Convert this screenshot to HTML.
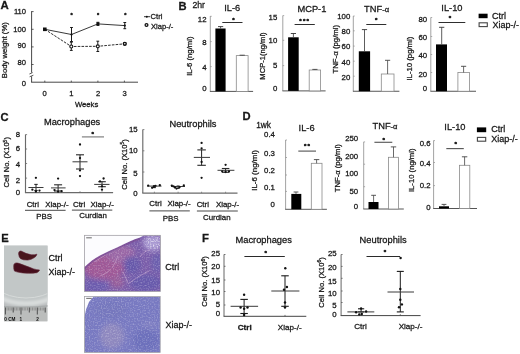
<!DOCTYPE html>
<html><head><meta charset="utf-8"><title>Figure</title>
<style>
html,body{margin:0;padding:0;background:#fff;width:520px;height:354px;overflow:hidden}
svg{display:block}
text{font-family:"Liberation Sans", Arial, sans-serif;stroke:#1a1a1a;stroke-width:0.28px}
</style></head><body>
<svg width="520" height="354" viewBox="0 0 520 354">
<rect width="520" height="354" fill="#fff"/>
<text x="0.6" y="9.2" font-size="11.4" text-anchor="start" font-weight="bold" fill="#161616" >A</text>
<line x1="31.6" y1="11.2" x2="31.6" y2="72.6" stroke="#333" stroke-width="0.9" />
<line x1="31.6" y1="76.3" x2="31.6" y2="82.2" stroke="#333" stroke-width="0.9" />
<line x1="29.4" y1="74.0" x2="32.6" y2="72.6" stroke="#333" stroke-width="0.8" />
<line x1="29.6" y1="76.8" x2="33.4" y2="75.2" stroke="#333" stroke-width="0.8" />
<line x1="31.150000000000002" y1="82.2" x2="138" y2="82.2" stroke="#333" stroke-width="0.9" />
<line x1="31.6" y1="11.6" x2="33.6" y2="11.6" stroke="#333" stroke-width="0.8" />
<line x1="31.6" y1="29.3" x2="33.6" y2="29.3" stroke="#333" stroke-width="0.8" />
<line x1="31.6" y1="46.9" x2="33.6" y2="46.9" stroke="#333" stroke-width="0.8" />
<line x1="31.6" y1="64.5" x2="33.6" y2="64.5" stroke="#333" stroke-width="0.8" />
<line x1="44.8" y1="82.2" x2="44.8" y2="80.6" stroke="#333" stroke-width="0.8" />
<line x1="71.3" y1="82.2" x2="71.3" y2="80.6" stroke="#333" stroke-width="0.8" />
<line x1="97.9" y1="82.2" x2="97.9" y2="80.6" stroke="#333" stroke-width="0.8" />
<line x1="124.4" y1="82.2" x2="124.4" y2="80.6" stroke="#333" stroke-width="0.8" />
<text x="26.0" y="14.32" font-size="7.6" text-anchor="end" font-weight="normal" fill="#161616" >110</text>
<text x="26.0" y="31.72" font-size="7.6" text-anchor="end" font-weight="normal" fill="#161616" >100</text>
<text x="26.0" y="47.92" font-size="7.6" text-anchor="end" font-weight="normal" fill="#161616" >90</text>
<text x="26.0" y="65.32" font-size="7.6" text-anchor="end" font-weight="normal" fill="#161616" >80</text>
<text x="26.0" y="86.32" font-size="7.6" text-anchor="end" font-weight="normal" fill="#161616" >0</text>
<text x="44.6" y="95.6" font-size="7.6" text-anchor="middle" font-weight="normal" fill="#161616" >0</text>
<text x="71.4" y="95.6" font-size="7.6" text-anchor="middle" font-weight="normal" fill="#161616" >1</text>
<text x="98.0" y="95.6" font-size="7.6" text-anchor="middle" font-weight="normal" fill="#161616" >2</text>
<text x="124.5" y="95.6" font-size="7.6" text-anchor="middle" font-weight="normal" fill="#161616" >3</text>
<text x="86.6" y="107.3" font-size="7.7" text-anchor="middle" font-weight="normal" fill="#161616" >Weeks</text>
<text transform="translate(7.2,50.2) rotate(-90)" x="0" y="0" font-size="7.7" text-anchor="middle" font-weight="normal" fill="#161616">Body weight (%)</text>
<polyline points="44.8,29.3 71.5,34.5 97.9,23.9 124.8,25.6" fill="none" stroke="#222" stroke-width="0.9"/>
<polyline points="44.8,29.3 71.3,46.5 97.8,46.3 124.8,43.8" fill="none" stroke="#222" stroke-width="0.95" stroke-dasharray="2.6,1.2"/>
<line x1="71.5" y1="27.5" x2="71.5" y2="41.5" stroke="#1a1a1a" stroke-width="1.0" />
<line x1="70.1" y1="27.5" x2="72.9" y2="27.5" stroke="#1a1a1a" stroke-width="1.0" />
<line x1="70.1" y1="41.5" x2="72.9" y2="41.5" stroke="#1a1a1a" stroke-width="1.0" />
<line x1="97.9" y1="22.3" x2="97.9" y2="25.4" stroke="#1a1a1a" stroke-width="1.0" />
<line x1="96.5" y1="22.3" x2="99.30000000000001" y2="22.3" stroke="#1a1a1a" stroke-width="1.0" />
<line x1="96.5" y1="25.4" x2="99.30000000000001" y2="25.4" stroke="#1a1a1a" stroke-width="1.0" />
<line x1="124.8" y1="22.5" x2="124.8" y2="28.7" stroke="#1a1a1a" stroke-width="1.0" />
<line x1="123.39999999999999" y1="22.5" x2="126.2" y2="22.5" stroke="#1a1a1a" stroke-width="1.0" />
<line x1="123.39999999999999" y1="28.7" x2="126.2" y2="28.7" stroke="#1a1a1a" stroke-width="1.0" />
<line x1="71.3" y1="42.2" x2="71.3" y2="50.4" stroke="#1a1a1a" stroke-width="1.0" />
<line x1="69.89999999999999" y1="42.2" x2="72.7" y2="42.2" stroke="#1a1a1a" stroke-width="1.0" />
<line x1="69.89999999999999" y1="50.4" x2="72.7" y2="50.4" stroke="#1a1a1a" stroke-width="1.0" />
<line x1="97.8" y1="41.2" x2="97.8" y2="51.5" stroke="#1a1a1a" stroke-width="1.0" />
<line x1="96.39999999999999" y1="41.2" x2="99.2" y2="41.2" stroke="#1a1a1a" stroke-width="1.0" />
<line x1="96.39999999999999" y1="51.5" x2="99.2" y2="51.5" stroke="#1a1a1a" stroke-width="1.0" />
<line x1="124.8" y1="42.6" x2="124.8" y2="45.0" stroke="#1a1a1a" stroke-width="1.0" />
<line x1="123.39999999999999" y1="42.6" x2="126.2" y2="42.6" stroke="#1a1a1a" stroke-width="1.0" />
<line x1="123.39999999999999" y1="45.0" x2="126.2" y2="45.0" stroke="#1a1a1a" stroke-width="1.0" />
<rect x="43.0" y="27.5" width="3.6" height="3.6" fill="#111" stroke="none" stroke-width="0.8"/>
<circle cx="71.5" cy="34.5" r="1.1" fill="#111"/>
<rect x="96.4" y="22.4" width="3.0" height="3.0" fill="#111" stroke="none" stroke-width="0.8"/>
<circle cx="124.8" cy="25.6" r="1.1" fill="#111"/>
<circle cx="71.3" cy="46.5" r="1.5" fill="#fff" stroke="#1a1a1a" stroke-width="1.15"/>
<circle cx="97.8" cy="46.3" r="1.5" fill="#fff" stroke="#1a1a1a" stroke-width="1.15"/>
<circle cx="124.8" cy="43.8" r="1.45" fill="#fff" stroke="#111" stroke-width="1.4"/>
<text x="71.5" y="16.97" font-size="5.6" text-anchor="middle" font-weight="bold" fill="#111" style="stroke:#111;stroke-width:0.35px;stroke-linejoin:round" letter-spacing="0">*</text>
<text x="98.0" y="16.97" font-size="5.6" text-anchor="middle" font-weight="bold" fill="#111" style="stroke:#111;stroke-width:0.35px;stroke-linejoin:round" letter-spacing="0">*</text>
<text x="125.3" y="16.97" font-size="5.6" text-anchor="middle" font-weight="bold" fill="#111" style="stroke:#111;stroke-width:0.35px;stroke-linejoin:round" letter-spacing="0">*</text>
<line x1="144" y1="16.7" x2="150" y2="16.7" stroke="#222" stroke-width="0.9" />
<circle cx="146.8" cy="16.7" r="1.0" fill="#111"/>
<text x="150.6" y="19.4" font-size="7.6" text-anchor="start" font-weight="normal" fill="#161616" >Ctrl</text>
<circle cx="146.5" cy="25" r="1.4" fill="#fff" stroke="#111" stroke-width="1.3"/>
<text x="151.0" y="28.9" font-size="7.6" text-anchor="start" font-weight="normal" fill="#161616" >Xiap-/-</text>
<text x="178.4" y="9.6" font-size="11.2" text-anchor="start" font-weight="bold" fill="#161616" >B</text>
<text x="192.4" y="7.8" font-size="8.7" text-anchor="start" font-weight="normal" fill="#161616" >2hr</text>
<line x1="210.3" y1="16.0" x2="210.3" y2="91.4" stroke="#8a8a8a" stroke-width="0.8" />
<line x1="210.3" y1="16.3" x2="211.70000000000002" y2="16.3" stroke="#8a8a8a" stroke-width="0.7" />
<line x1="210.3" y1="41.6" x2="211.70000000000002" y2="41.6" stroke="#8a8a8a" stroke-width="0.7" />
<line x1="210.3" y1="66.6" x2="211.70000000000002" y2="66.6" stroke="#8a8a8a" stroke-width="0.7" />
<line x1="209.9" y1="91.4" x2="253.1" y2="91.4" stroke="#555" stroke-width="1.0" />
<text x="232.2" y="11.0" font-size="9.3" text-anchor="middle" font-weight="normal" fill="#161616" >IL-6</text>
<text x="206.5" y="21.59" font-size="7.8" text-anchor="end" font-weight="normal" fill="#161616" >12</text>
<text x="206.5" y="44.79" font-size="7.8" text-anchor="end" font-weight="normal" fill="#161616" >8</text>
<text x="206.5" y="69.79" font-size="7.8" text-anchor="end" font-weight="normal" fill="#161616" >4</text>
<text x="206.5" y="90.99" font-size="7.8" text-anchor="end" font-weight="normal" fill="#161616" >0</text>
<rect x="215.4" y="28.5" width="10.199999999999989" height="62.900000000000006" fill="#000" stroke="none" stroke-width="0.8"/>
<line x1="220.6" y1="28.5" x2="220.6" y2="26.6" stroke="#333" stroke-width="0.8" />
<line x1="218.0" y1="26.6" x2="223.2" y2="26.6" stroke="#333" stroke-width="0.9" />
<rect x="236.3" y="55.6" width="11.799999999999983" height="35.800000000000004" fill="#fff" stroke="#8a8a8a" stroke-width="0.8"/>
<line x1="242.2" y1="55.6" x2="242.2" y2="55.2" stroke="#444" stroke-width="0.8" />
<line x1="239.6" y1="55.2" x2="244.79999999999998" y2="55.2" stroke="#444" stroke-width="0.9" />
<line x1="222.3" y1="22.5" x2="242.5" y2="22.5" stroke="#2e2e2e" stroke-width="1.0" />
<text x="233.5" y="21.98" font-size="6.2" text-anchor="middle" font-weight="bold" fill="#111" style="stroke:#111;stroke-width:0.45px;stroke-linejoin:round" letter-spacing="0">*</text>
<text transform="translate(192.2,56.2) rotate(-90)" x="0" y="0" font-size="7.7" text-anchor="middle" font-weight="normal" fill="#161616">IL-6 (ng/ml)</text>
<line x1="282.8" y1="15.6" x2="282.8" y2="90.9" stroke="#8a8a8a" stroke-width="0.8" />
<line x1="282.8" y1="15.6" x2="284.2" y2="15.6" stroke="#8a8a8a" stroke-width="0.7" />
<line x1="282.8" y1="40.3" x2="284.2" y2="40.3" stroke="#8a8a8a" stroke-width="0.7" />
<line x1="282.8" y1="65.6" x2="284.2" y2="65.6" stroke="#8a8a8a" stroke-width="0.7" />
<line x1="282.40000000000003" y1="90.9" x2="325.6" y2="90.9" stroke="#555" stroke-width="1.0" />
<text x="311.9" y="11.7" font-size="9.3" text-anchor="middle" font-weight="normal" fill="#161616" >MCP-1</text>
<text x="277.3" y="20.29" font-size="7.8" text-anchor="end" font-weight="normal" fill="#161616" >15</text>
<text x="277.3" y="43.29" font-size="7.8" text-anchor="end" font-weight="normal" fill="#161616" >10</text>
<text x="277.3" y="67.79" font-size="7.8" text-anchor="end" font-weight="normal" fill="#161616" >5</text>
<text x="277.3" y="90.89" font-size="7.8" text-anchor="end" font-weight="normal" fill="#161616" >0</text>
<rect x="288.1" y="37.3" width="10.599999999999966" height="53.60000000000001" fill="#000" stroke="none" stroke-width="0.8"/>
<line x1="293.4" y1="37.3" x2="293.4" y2="33.5" stroke="#333" stroke-width="0.8" />
<line x1="290.79999999999995" y1="33.5" x2="296.0" y2="33.5" stroke="#333" stroke-width="0.9" />
<rect x="309.2" y="70.0" width="11.400000000000034" height="20.900000000000006" fill="#fff" stroke="#8a8a8a" stroke-width="0.8"/>
<line x1="314.9" y1="70.0" x2="314.9" y2="69.4" stroke="#444" stroke-width="0.8" />
<line x1="312.29999999999995" y1="69.4" x2="317.5" y2="69.4" stroke="#444" stroke-width="0.9" />
<line x1="294.6" y1="24.5" x2="314.8" y2="24.5" stroke="#2e2e2e" stroke-width="1.0" />
<text x="304.68" y="23.18" font-size="6.2" text-anchor="middle" font-weight="bold" fill="#111" style="stroke:#111;stroke-width:0.45px;stroke-linejoin:round" letter-spacing="1.15">***</text>
<text transform="translate(264.6,56.0) rotate(-90)" x="0" y="0" font-size="7.6" text-anchor="middle" font-weight="normal" fill="#161616">MCP-1(ng/ml)</text>
<line x1="353.3" y1="16.0" x2="353.3" y2="91.25" stroke="#8a8a8a" stroke-width="0.8" />
<line x1="353.3" y1="16.0" x2="354.7" y2="16.0" stroke="#8a8a8a" stroke-width="0.7" />
<line x1="353.3" y1="30.8" x2="354.7" y2="30.8" stroke="#8a8a8a" stroke-width="0.7" />
<line x1="353.3" y1="46.1" x2="354.7" y2="46.1" stroke="#8a8a8a" stroke-width="0.7" />
<line x1="353.3" y1="61.2" x2="354.7" y2="61.2" stroke="#8a8a8a" stroke-width="0.7" />
<line x1="353.3" y1="76.2" x2="354.7" y2="76.2" stroke="#8a8a8a" stroke-width="0.7" />
<line x1="352.90000000000003" y1="91.25" x2="399.4" y2="91.25" stroke="#555" stroke-width="1.0" />
<text x="376.6" y="11.9" font-size="9.3" text-anchor="middle" font-weight="normal" fill="#161616" >TNF<tspan font-size="7.6">-&#945;</tspan></text>
<text x="350.3" y="18.59" font-size="7.8" text-anchor="end" font-weight="normal" fill="#161616" >100</text>
<text x="350.3" y="33.69" font-size="7.8" text-anchor="end" font-weight="normal" fill="#161616" >80</text>
<text x="350.3" y="49.29" font-size="7.8" text-anchor="end" font-weight="normal" fill="#161616" >60</text>
<text x="350.3" y="64.99" font-size="7.8" text-anchor="end" font-weight="normal" fill="#161616" >40</text>
<text x="350.3" y="80.29" font-size="7.8" text-anchor="end" font-weight="normal" fill="#161616" >20</text>
<rect x="358.8" y="51.3" width="11.300000000000011" height="39.95" fill="#000" stroke="none" stroke-width="0.8"/>
<line x1="364.5" y1="51.3" x2="364.5" y2="29.6" stroke="#333" stroke-width="0.8" />
<line x1="361.9" y1="29.6" x2="367.1" y2="29.6" stroke="#333" stroke-width="0.9" />
<rect x="381.3" y="74.0" width="12.699999999999989" height="17.25" fill="#fff" stroke="#8a8a8a" stroke-width="0.8"/>
<line x1="387.6" y1="74.0" x2="387.6" y2="60.3" stroke="#444" stroke-width="0.8" />
<line x1="385.0" y1="60.3" x2="390.20000000000005" y2="60.3" stroke="#444" stroke-width="0.9" />
<line x1="366.3" y1="24.5" x2="386.3" y2="24.5" stroke="#2e2e2e" stroke-width="1.0" />
<text x="376.3" y="21.98" font-size="6.2" text-anchor="middle" font-weight="bold" fill="#111" style="stroke:#111;stroke-width:0.45px;stroke-linejoin:round" letter-spacing="0">*</text>
<text transform="translate(337.8,49.2) rotate(-90)" x="0" y="0" font-size="7.8" text-anchor="middle" font-weight="normal" fill="#161616">TNF-&#945; (pg/ml)</text>
<line x1="430.8" y1="17.5" x2="430.8" y2="91.25" stroke="#8a8a8a" stroke-width="0.8" />
<line x1="430.8" y1="17.5" x2="432.2" y2="17.5" stroke="#8a8a8a" stroke-width="0.7" />
<line x1="430.8" y1="36.5" x2="432.2" y2="36.5" stroke="#8a8a8a" stroke-width="0.7" />
<line x1="430.8" y1="54.5" x2="432.2" y2="54.5" stroke="#8a8a8a" stroke-width="0.7" />
<line x1="430.8" y1="72.5" x2="432.2" y2="72.5" stroke="#8a8a8a" stroke-width="0.7" />
<line x1="430.40000000000003" y1="91.25" x2="476.0" y2="91.25" stroke="#555" stroke-width="1.0" />
<text x="451.9" y="11.0" font-size="9.3" text-anchor="middle" font-weight="normal" fill="#161616" >IL-10</text>
<text x="427.2" y="21.99" font-size="7.8" text-anchor="end" font-weight="normal" fill="#161616" >80</text>
<text x="427.2" y="39.59" font-size="7.8" text-anchor="end" font-weight="normal" fill="#161616" >60</text>
<text x="427.2" y="58.29" font-size="7.8" text-anchor="end" font-weight="normal" fill="#161616" >40</text>
<text x="427.2" y="76.79" font-size="7.8" text-anchor="end" font-weight="normal" fill="#161616" >20</text>
<text x="427.2" y="90.89" font-size="7.8" text-anchor="end" font-weight="normal" fill="#161616" >0</text>
<rect x="436.0" y="44.4" width="11.0" height="46.85" fill="#000" stroke="none" stroke-width="0.8"/>
<line x1="441.7" y1="44.4" x2="441.7" y2="27.3" stroke="#333" stroke-width="0.8" />
<line x1="439.09999999999997" y1="27.3" x2="444.3" y2="27.3" stroke="#333" stroke-width="0.9" />
<rect x="457.9" y="72.5" width="11.5" height="18.75" fill="#fff" stroke="#8a8a8a" stroke-width="0.8"/>
<line x1="463.6" y1="72.5" x2="463.6" y2="66.3" stroke="#444" stroke-width="0.8" />
<line x1="461.0" y1="66.3" x2="466.20000000000005" y2="66.3" stroke="#444" stroke-width="0.9" />
<line x1="438.5" y1="22.5" x2="465.3" y2="22.5" stroke="#2e2e2e" stroke-width="1.0" />
<text x="450.0" y="19.88" font-size="6.2" text-anchor="middle" font-weight="bold" fill="#111" style="stroke:#111;stroke-width:0.45px;stroke-linejoin:round" letter-spacing="0">*</text>
<text transform="translate(411.9,58.6) rotate(-90)" x="0" y="0" font-size="7.75" text-anchor="middle" font-weight="normal" fill="#161616">IL-10 (pg/ml)</text>
<rect x="478.6" y="13.7" width="9.0" height="4.5" fill="#000" stroke="none" stroke-width="0.8"/>
<rect x="479.1" y="22.8" width="8.2" height="3.8" fill="#fff" stroke="#444" stroke-width="1.1"/>
<text x="492.0" y="18.6" font-size="9" text-anchor="start" font-weight="normal" fill="#161616" >Ctrl</text>
<text x="492.4" y="28.0" font-size="9" text-anchor="start" font-weight="normal" fill="#161616" >Xiap-/-</text>
<text x="0.5" y="120.9" font-size="11.2" text-anchor="start" font-weight="bold" fill="#161616" >C</text>
<line x1="25.5" y1="134.5" x2="25.5" y2="192.6" stroke="#6a6a6a" stroke-width="1.15" />
<line x1="24.95" y1="192.6" x2="113.1" y2="192.6" stroke="#6a6a6a" stroke-width="1.15" />
<line x1="25.5" y1="134.6" x2="27.1" y2="134.6" stroke="#6a6a6a" stroke-width="0.8" />
<line x1="25.5" y1="149.0" x2="27.1" y2="149.0" stroke="#6a6a6a" stroke-width="0.8" />
<line x1="25.5" y1="163.5" x2="27.1" y2="163.5" stroke="#6a6a6a" stroke-width="0.8" />
<line x1="25.5" y1="178.1" x2="27.1" y2="178.1" stroke="#6a6a6a" stroke-width="0.8" />
<text x="20.2" y="136.69" font-size="7.8" text-anchor="end" font-weight="normal" fill="#161616" >8</text>
<text x="20.2" y="150.99" font-size="7.8" text-anchor="end" font-weight="normal" fill="#161616" >6</text>
<text x="20.2" y="167.19" font-size="7.8" text-anchor="end" font-weight="normal" fill="#161616" >4</text>
<text x="20.2" y="183.39" font-size="7.8" text-anchor="end" font-weight="normal" fill="#161616" >2</text>
<text x="20.2" y="195.39" font-size="7.8" text-anchor="end" font-weight="normal" fill="#161616" >0</text>
<text x="72.1" y="124.9" font-size="9.3" text-anchor="middle" font-weight="normal" fill="#161616" >Macrophages</text>
<text transform="translate(9.4,162.3) rotate(-90)" x="0" y="0" font-size="7.6" text-anchor="middle" font-weight="normal" fill="#161616">Cell No. (X10<tspan font-size="5" dy="-2.6">5</tspan><tspan dy="2.6">)</tspan></text>
<line x1="36.0" y1="192.6" x2="36.0" y2="191.2" stroke="#6a6a6a" stroke-width="0.7" />
<line x1="36.0" y1="184.4" x2="36.0" y2="190.5" stroke="#222" stroke-width="1.0" />
<line x1="34.3" y1="184.4" x2="37.7" y2="184.4" stroke="#2a2a2a" stroke-width="1.1" />
<line x1="34.3" y1="190.5" x2="37.7" y2="190.5" stroke="#2a2a2a" stroke-width="1.1" />
<line x1="28.4" y1="187.5" x2="43.5" y2="187.5" stroke="#3a3a3a" stroke-width="1.0" />
<circle cx="35.9" cy="177.8" r="1.15" fill="#111"/>
<circle cx="32.4" cy="189.7" r="1.15" fill="#111"/>
<circle cx="35.9" cy="191.5" r="1.15" fill="#111"/>
<circle cx="39.5" cy="190.6" r="1.15" fill="#111"/>
<line x1="58.1" y1="192.6" x2="58.1" y2="191.2" stroke="#6a6a6a" stroke-width="0.7" />
<line x1="58.1" y1="184.8" x2="58.1" y2="191.0" stroke="#222" stroke-width="1.0" />
<line x1="54.1" y1="184.8" x2="62.1" y2="184.8" stroke="#2a2a2a" stroke-width="1.1" />
<line x1="54.1" y1="191.0" x2="62.1" y2="191.0" stroke="#2a2a2a" stroke-width="1.1" />
<line x1="51.0" y1="187.9" x2="65.6" y2="187.9" stroke="#3a3a3a" stroke-width="1.0" />
<circle cx="58.1" cy="178.6" r="1.15" fill="#111"/>
<circle cx="54.5" cy="190.1" r="1.15" fill="#111"/>
<circle cx="58.1" cy="191.7" r="1.15" fill="#111"/>
<circle cx="61.6" cy="191.2" r="1.15" fill="#111"/>
<line x1="80.0" y1="192.6" x2="80.0" y2="191.2" stroke="#6a6a6a" stroke-width="0.7" />
<line x1="80.0" y1="154.8" x2="80.0" y2="169.0" stroke="#222" stroke-width="1.0" />
<line x1="76.0" y1="154.8" x2="84.0" y2="154.8" stroke="#2a2a2a" stroke-width="1.1" />
<line x1="76.0" y1="169.0" x2="84.0" y2="169.0" stroke="#2a2a2a" stroke-width="1.1" />
<line x1="72.5" y1="161.8" x2="87.5" y2="161.8" stroke="#3a3a3a" stroke-width="1.0" />
<circle cx="80.0" cy="144.5" r="1.15" fill="#111"/>
<circle cx="80.0" cy="158.1" r="1.15" fill="#111"/>
<circle cx="80.0" cy="170.4" r="1.15" fill="#111"/>
<circle cx="80.0" cy="176.1" r="1.15" fill="#111"/>
<line x1="102.0" y1="192.6" x2="102.0" y2="191.2" stroke="#6a6a6a" stroke-width="0.7" />
<line x1="102.0" y1="181.7" x2="102.0" y2="186.7" stroke="#222" stroke-width="1.0" />
<line x1="98.2" y1="181.7" x2="105.8" y2="181.7" stroke="#2a2a2a" stroke-width="1.1" />
<line x1="98.2" y1="186.7" x2="105.8" y2="186.7" stroke="#2a2a2a" stroke-width="1.1" />
<line x1="94.2" y1="184.4" x2="109.5" y2="184.4" stroke="#3a3a3a" stroke-width="1.0" />
<circle cx="103.6" cy="178.5" r="1.15" fill="#111"/>
<circle cx="100.0" cy="181.4" r="1.15" fill="#111"/>
<circle cx="102.0" cy="186.4" r="1.15" fill="#111"/>
<circle cx="102.0" cy="189.7" r="1.15" fill="#111"/>
<text x="32.8" y="206.9" font-size="7.9" text-anchor="middle" font-weight="normal" fill="#161616" >Ctrl</text>
<text x="56.9" y="206.9" font-size="7.9" text-anchor="middle" font-weight="normal" fill="#161616" >Xiap-/-</text>
<text x="79.1" y="206.9" font-size="7.9" text-anchor="middle" font-weight="normal" fill="#161616" >Ctrl</text>
<text x="102.2" y="206.9" font-size="7.9" text-anchor="middle" font-weight="normal" fill="#161616" >Xiap-/-</text>
<line x1="25.0" y1="210.3" x2="65.6" y2="210.3" stroke="#333" stroke-width="0.9" />
<text x="44.1" y="218.7" font-size="7.9" text-anchor="middle" font-weight="normal" fill="#161616" >PBS</text>
<line x1="71.9" y1="210.1" x2="112.3" y2="210.1" stroke="#333" stroke-width="0.9" />
<text x="93.1" y="218.2" font-size="7.9" text-anchor="middle" font-weight="normal" fill="#161616" >Curdlan</text>
<line x1="81.9" y1="136.9" x2="104.0" y2="136.9" stroke="#808080" stroke-width="1.2" />
<text x="92.8" y="136.28" font-size="6.2" text-anchor="middle" font-weight="bold" fill="#111" style="stroke:#111;stroke-width:0.45px;stroke-linejoin:round" letter-spacing="0">*</text>
<line x1="142.8" y1="129.5" x2="142.8" y2="193.1" stroke="#6a6a6a" stroke-width="1.15" />
<line x1="142.25" y1="193.1" x2="237.5" y2="193.1" stroke="#6a6a6a" stroke-width="1.15" />
<line x1="142.8" y1="129.6" x2="144.4" y2="129.6" stroke="#6a6a6a" stroke-width="0.8" />
<line x1="142.8" y1="150.8" x2="144.4" y2="150.8" stroke="#6a6a6a" stroke-width="0.8" />
<line x1="142.8" y1="172.0" x2="144.4" y2="172.0" stroke="#6a6a6a" stroke-width="0.8" />
<text x="137.6" y="132.09" font-size="7.8" text-anchor="end" font-weight="normal" fill="#161616" >15</text>
<text x="137.6" y="152.89" font-size="7.8" text-anchor="end" font-weight="normal" fill="#161616" >10</text>
<text x="137.6" y="175.99" font-size="7.8" text-anchor="end" font-weight="normal" fill="#161616" >5</text>
<text x="137.6" y="195.99" font-size="7.8" text-anchor="end" font-weight="normal" fill="#161616" >0</text>
<text x="193.0" y="126.6" font-size="9.3" text-anchor="middle" font-weight="normal" fill="#161616" >Neutrophils</text>
<text transform="translate(127.0,164.5) rotate(-90)" x="0" y="0" font-size="7.6" text-anchor="middle" font-weight="normal" fill="#161616">Cell No. (X10<tspan font-size="5" dy="-2.6">5</tspan><tspan dy="2.6">)</tspan></text>
<line x1="154.4" y1="193.1" x2="154.4" y2="191.7" stroke="#6a6a6a" stroke-width="0.7" />
<line x1="154.4" y1="185.6" x2="154.4" y2="187.6" stroke="#222" stroke-width="1.0" />
<line x1="152.9" y1="185.6" x2="155.9" y2="185.6" stroke="#2a2a2a" stroke-width="1.1" />
<line x1="152.9" y1="187.6" x2="155.9" y2="187.6" stroke="#2a2a2a" stroke-width="1.1" />
<line x1="147.0" y1="186.1" x2="161.5" y2="186.1" stroke="#3a3a3a" stroke-width="1.0" />
<circle cx="148.2" cy="185.6" r="1.15" fill="#111"/>
<circle cx="152.1" cy="187.8" r="1.15" fill="#111"/>
<circle cx="153.8" cy="186.8" r="1.15" fill="#111"/>
<circle cx="155.5" cy="185.8" r="1.15" fill="#111"/>
<circle cx="159.8" cy="185.2" r="1.15" fill="#111"/>
<line x1="178.1" y1="193.1" x2="178.1" y2="191.7" stroke="#6a6a6a" stroke-width="0.7" />
<line x1="178.1" y1="186.0" x2="178.1" y2="188.4" stroke="#222" stroke-width="1.0" />
<line x1="176.6" y1="186.0" x2="179.6" y2="186.0" stroke="#2a2a2a" stroke-width="1.1" />
<line x1="176.6" y1="188.4" x2="179.6" y2="188.4" stroke="#2a2a2a" stroke-width="1.1" />
<line x1="171.0" y1="186.5" x2="185.0" y2="186.5" stroke="#3a3a3a" stroke-width="1.0" />
<circle cx="171.8" cy="185.6" r="1.15" fill="#111"/>
<circle cx="173.5" cy="186.4" r="1.15" fill="#111"/>
<circle cx="175.0" cy="187.5" r="1.15" fill="#111"/>
<circle cx="176.5" cy="188.6" r="1.15" fill="#111"/>
<circle cx="179.5" cy="187.2" r="1.15" fill="#111"/>
<circle cx="183.8" cy="185.4" r="1.15" fill="#111"/>
<line x1="201.6" y1="193.1" x2="201.6" y2="191.7" stroke="#6a6a6a" stroke-width="0.7" />
<line x1="201.6" y1="149.9" x2="201.6" y2="165.3" stroke="#222" stroke-width="1.0" />
<line x1="197.35" y1="149.9" x2="205.85" y2="149.9" stroke="#2a2a2a" stroke-width="1.1" />
<line x1="197.35" y1="165.3" x2="205.85" y2="165.3" stroke="#2a2a2a" stroke-width="1.1" />
<line x1="193.8" y1="157.4" x2="210.0" y2="157.4" stroke="#3a3a3a" stroke-width="1.0" />
<circle cx="201.6" cy="142.9" r="1.15" fill="#111"/>
<circle cx="201.6" cy="148.3" r="1.15" fill="#111"/>
<circle cx="201.6" cy="161.9" r="1.15" fill="#111"/>
<circle cx="201.6" cy="177.8" r="1.15" fill="#111"/>
<line x1="225.6" y1="193.1" x2="225.6" y2="191.7" stroke="#6a6a6a" stroke-width="0.7" />
<line x1="225.6" y1="168.5" x2="225.6" y2="172.3" stroke="#222" stroke-width="1.0" />
<line x1="221.85" y1="168.5" x2="229.35" y2="168.5" stroke="#2a2a2a" stroke-width="1.1" />
<line x1="221.85" y1="172.3" x2="229.35" y2="172.3" stroke="#2a2a2a" stroke-width="1.1" />
<line x1="217.5" y1="170.3" x2="234.4" y2="170.3" stroke="#3a3a3a" stroke-width="1.0" />
<circle cx="225.6" cy="164.8" r="1.15" fill="#111"/>
<circle cx="222.2" cy="171.3" r="1.15" fill="#111"/>
<circle cx="229.0" cy="171.3" r="1.15" fill="#111"/>
<circle cx="225.6" cy="172.0" r="1.15" fill="#111"/>
<text x="155.5" y="206.3" font-size="7.9" text-anchor="middle" font-weight="normal" fill="#161616" >Ctrl</text>
<text x="179.0" y="206.3" font-size="7.9" text-anchor="middle" font-weight="normal" fill="#161616" >Xiap-/-</text>
<text x="202.8" y="207.4" font-size="7.9" text-anchor="middle" font-weight="normal" fill="#161616" >Ctrl</text>
<text x="227.5" y="207.4" font-size="7.9" text-anchor="middle" font-weight="normal" fill="#161616" >Xiap-/-</text>
<line x1="149.4" y1="210.9" x2="189.8" y2="210.9" stroke="#333" stroke-width="0.9" />
<text x="170.6" y="220.5" font-size="7.9" text-anchor="middle" font-weight="normal" fill="#161616" >PBS</text>
<line x1="196.9" y1="211.0" x2="237.8" y2="211.0" stroke="#333" stroke-width="0.9" />
<text x="216.8" y="219.7" font-size="7.9" text-anchor="middle" font-weight="normal" fill="#161616" >Curdlan</text>
<text x="242.6" y="120.2" font-size="11.2" text-anchor="start" font-weight="bold" fill="#161616" >D</text>
<text x="256.2" y="127.5" font-size="8.3" text-anchor="start" font-weight="normal" fill="#161616" >1wk</text>
<line x1="285.6" y1="140.0" x2="285.6" y2="209.3" stroke="#8a8a8a" stroke-width="0.8" />
<line x1="285.20000000000005" y1="209.3" x2="326.9" y2="209.3" stroke="#555" stroke-width="1.0" />
<line x1="285.6" y1="140.0" x2="287.0" y2="140.0" stroke="#8a8a8a" stroke-width="0.7" />
<line x1="285.6" y1="157.5" x2="287.0" y2="157.5" stroke="#8a8a8a" stroke-width="0.7" />
<line x1="285.6" y1="175.0" x2="287.0" y2="175.0" stroke="#8a8a8a" stroke-width="0.7" />
<line x1="285.6" y1="191.4" x2="287.0" y2="191.4" stroke="#8a8a8a" stroke-width="0.7" />
<text x="274.9" y="137.39" font-size="7.8" text-anchor="end" font-weight="normal" fill="#161616" >0.4</text>
<text x="274.9" y="155.79" font-size="7.8" text-anchor="end" font-weight="normal" fill="#161616" >0.3</text>
<text x="274.9" y="172.99" font-size="7.8" text-anchor="end" font-weight="normal" fill="#161616" >0.2</text>
<text x="274.9" y="190.29" font-size="7.8" text-anchor="end" font-weight="normal" fill="#161616" >0.1</text>
<text x="274.9" y="206.79" font-size="7.8" text-anchor="end" font-weight="normal" fill="#161616" >0</text>
<text x="306.6" y="130.6" font-size="9.3" text-anchor="middle" font-weight="normal" fill="#161616" >IL-6</text>
<rect x="291.3" y="193.9" width="10.0" height="15.400000000000006" fill="#000" stroke="none" stroke-width="0.8"/>
<line x1="296.0" y1="193.9" x2="296.0" y2="192.0" stroke="#444" stroke-width="0.8" />
<line x1="293.6" y1="192.0" x2="298.4" y2="192.0" stroke="#444" stroke-width="0.9" />
<rect x="311.3" y="163.3" width="10.699999999999989" height="46.0" fill="#fff" stroke="#8a8a8a" stroke-width="0.8"/>
<line x1="316.6" y1="163.3" x2="316.6" y2="159.6" stroke="#444" stroke-width="0.8" />
<line x1="313.90000000000003" y1="159.6" x2="319.3" y2="159.6" stroke="#444" stroke-width="0.9" />
<line x1="298.3" y1="151.1" x2="316.0" y2="151.1" stroke="#5a5a5a" stroke-width="1.15" />
<text x="307.57" y="148.38" font-size="6.2" text-anchor="middle" font-weight="bold" fill="#111" style="stroke:#111;stroke-width:0.45px;stroke-linejoin:round" letter-spacing="1.15">**</text>
<text transform="translate(256.9,170.5) rotate(-90)" x="0" y="0" font-size="7.95" text-anchor="middle" font-weight="normal" fill="#161616">IL-6 (ng/ml)</text>
<line x1="363.7" y1="141.9" x2="363.7" y2="209.0" stroke="#8a8a8a" stroke-width="0.8" />
<line x1="363.3" y1="209.0" x2="403.8" y2="209.0" stroke="#555" stroke-width="1.0" />
<line x1="363.7" y1="141.9" x2="365.09999999999997" y2="141.9" stroke="#8a8a8a" stroke-width="0.7" />
<line x1="363.7" y1="164.2" x2="365.09999999999997" y2="164.2" stroke="#8a8a8a" stroke-width="0.7" />
<line x1="363.7" y1="186.7" x2="365.09999999999997" y2="186.7" stroke="#8a8a8a" stroke-width="0.7" />
<text x="358.2" y="140.69" font-size="7.8" text-anchor="end" font-weight="normal" fill="#161616" >250</text>
<text x="358.2" y="158.79" font-size="7.8" text-anchor="end" font-weight="normal" fill="#161616" >200</text>
<text x="358.2" y="176.19" font-size="7.8" text-anchor="end" font-weight="normal" fill="#161616" >100</text>
<text x="358.2" y="193.89" font-size="7.8" text-anchor="end" font-weight="normal" fill="#161616" >50</text>
<text x="358.2" y="208.89" font-size="7.8" text-anchor="end" font-weight="normal" fill="#161616" >0</text>
<text x="385.0" y="128.8" font-size="9.3" text-anchor="middle" font-weight="normal" fill="#161616" >TNF<tspan font-size="7.6">-&#945;</tspan></text>
<rect x="368.5" y="202.0" width="10.0" height="7.0" fill="#000" stroke="none" stroke-width="0.8"/>
<line x1="373.6" y1="202.0" x2="373.6" y2="195.3" stroke="#444" stroke-width="0.8" />
<line x1="371.20000000000005" y1="195.3" x2="376.0" y2="195.3" stroke="#444" stroke-width="0.9" />
<rect x="388.5" y="157.3" width="10.0" height="51.69999999999999" fill="#fff" stroke="#8a8a8a" stroke-width="0.8"/>
<line x1="393.5" y1="157.3" x2="393.5" y2="146.9" stroke="#444" stroke-width="0.8" />
<line x1="390.8" y1="146.9" x2="396.2" y2="146.9" stroke="#444" stroke-width="0.9" />
<line x1="374.4" y1="142.3" x2="392.3" y2="142.3" stroke="#5a5a5a" stroke-width="1.15" />
<text x="383.8" y="141.98" font-size="6.2" text-anchor="middle" font-weight="bold" fill="#111" style="stroke:#111;stroke-width:0.45px;stroke-linejoin:round" letter-spacing="0">*</text>
<text transform="translate(339.7,168.3) rotate(-90)" x="0" y="0" font-size="7.7" text-anchor="middle" font-weight="normal" fill="#161616">TNF-&#945; (pg/ml)</text>
<line x1="433.6" y1="140.5" x2="433.6" y2="208.5" stroke="#8a8a8a" stroke-width="0.8" />
<line x1="433.20000000000005" y1="208.5" x2="477.0" y2="208.5" stroke="#555" stroke-width="1.0" />
<line x1="433.6" y1="140.6" x2="435.0" y2="140.6" stroke="#8a8a8a" stroke-width="0.7" />
<line x1="433.6" y1="162.5" x2="435.0" y2="162.5" stroke="#8a8a8a" stroke-width="0.7" />
<line x1="433.6" y1="185.6" x2="435.0" y2="185.6" stroke="#8a8a8a" stroke-width="0.7" />
<text x="430.6" y="145.59" font-size="7.8" text-anchor="end" font-weight="normal" fill="#161616" >0.6</text>
<text x="430.6" y="165.69" font-size="7.8" text-anchor="end" font-weight="normal" fill="#161616" >0.4</text>
<text x="430.6" y="187.69" font-size="7.8" text-anchor="end" font-weight="normal" fill="#161616" >0.2</text>
<text x="430.6" y="209.99" font-size="7.8" text-anchor="end" font-weight="normal" fill="#161616" >0</text>
<text x="454.9" y="129.9" font-size="9.3" text-anchor="middle" font-weight="normal" fill="#161616" >IL-10</text>
<rect x="439.0" y="206.3" width="10.0" height="2.1999999999999886" fill="#000" stroke="none" stroke-width="0.8"/>
<line x1="444.0" y1="206.3" x2="444.0" y2="204.4" stroke="#444" stroke-width="0.8" />
<line x1="441.6" y1="204.4" x2="446.4" y2="204.4" stroke="#444" stroke-width="0.9" />
<rect x="459.4" y="165.3" width="10.400000000000034" height="43.19999999999999" fill="#fff" stroke="#8a8a8a" stroke-width="0.8"/>
<line x1="464.6" y1="165.3" x2="464.6" y2="156.8" stroke="#444" stroke-width="0.8" />
<line x1="461.90000000000003" y1="156.8" x2="467.3" y2="156.8" stroke="#444" stroke-width="0.9" />
<line x1="446.3" y1="148.6" x2="463.8" y2="148.6" stroke="#5a5a5a" stroke-width="1.15" />
<text x="455.6" y="146.28" font-size="6.2" text-anchor="middle" font-weight="bold" fill="#111" style="stroke:#111;stroke-width:0.45px;stroke-linejoin:round" letter-spacing="0">*</text>
<text transform="translate(414.0,170.3) rotate(-90)" x="0" y="0" font-size="7.7" text-anchor="middle" font-weight="normal" fill="#161616">IL-10 (ng/ml)</text>
<rect x="476.9" y="127.4" width="9.3" height="4.8" fill="#000" stroke="none" stroke-width="0.8"/>
<rect x="477.4" y="137.4" width="8.3" height="3.8" fill="#fff" stroke="#444" stroke-width="1.1"/>
<text x="491.2" y="131.9" font-size="9" text-anchor="start" font-weight="normal" fill="#161616" >Ctrl</text>
<text x="491.2" y="142.3" font-size="9" text-anchor="start" font-weight="normal" fill="#161616" >Xiap-/-</text>
<text x="1.3" y="241.9" font-size="11.2" text-anchor="start" font-weight="bold" fill="#161616" >E</text>
<defs>
<clipPath id="cp"><rect x="4" y="245.6" width="43.6" height="75.8"/></clipPath>
<clipPath id="h1"><rect x="84.4" y="235.3" width="76" height="56.3"/></clipPath>
<clipPath id="h2"><rect x="84.4" y="296.4" width="75.8" height="56"/></clipPath>
<filter id="b1" x="-30%" y="-30%" width="160%" height="160%"><feGaussianBlur stdDeviation="2.4"/></filter>
<filter id="b3" x="-30%" y="-30%" width="160%" height="160%"><feGaussianBlur stdDeviation="1.2"/></filter>
<filter id="b2" x="-20%" y="-20%" width="140%" height="140%"><feGaussianBlur stdDeviation="0.6"/></filter>
<filter id="tx" x="0" y="0" width="100%" height="100%"><feTurbulence type="fractalNoise" baseFrequency="0.75" numOctaves="1" seed="7"/><feColorMatrix type="matrix" values="0 0 0 0 1  0 0 0 0 1  0 0 0 0 1  0 0 0 -3 1.6"/><feGaussianBlur stdDeviation="0.5"/></filter>
<filter id="tk" x="0" y="0" width="100%" height="100%"><feTurbulence type="fractalNoise" baseFrequency="0.8" numOctaves="1" seed="11"/><feColorMatrix type="matrix" values="0 0 0 0 0.2  0 0 0 0 0.15  0 0 0 0 0.45  0 0 0 3 -1.5"/><feGaussianBlur stdDeviation="0.5"/></filter>
<mask id="m1" maskUnits="userSpaceOnUse" x="120" y="220" width="60" height="50"><ellipse cx="154" cy="242" rx="9" ry="8" fill="#fff" filter="url(#b1)"/></mask>
</defs>
<g clip-path="url(#cp)">
<rect x="4" y="245.6" width="43.6" height="75.8" fill="#bcbfc0"/>
<ellipse cx="26" cy="270" rx="46" ry="34" fill="#c2c7c7" filter="url(#b1)"/>
<ellipse cx="26" cy="270" rx="45" ry="33.5" fill="none" stroke="#d8dcdb" stroke-width="4.5" filter="url(#b3)"/>
<ellipse cx="26" cy="266" rx="43" ry="32" fill="none" stroke="#d6dad9" stroke-width="1" filter="url(#b2)"/>
<path d="M0,306.5 Q26,308.5 52,305.5" fill="none" stroke="#a8acac" stroke-width="1.6" filter="url(#b2)"/>
<rect x="4" y="307.6" width="43.6" height="14" fill="#bbbdbc"/>
<g stroke="#2a2a2a" stroke-width="0.75">
<line x1="5.4" y1="307.5" x2="5.4" y2="314.5"/><line x1="21" y1="307.5" x2="21" y2="314.5"/><line x1="37.3" y1="307.5" x2="37.3" y2="314.5"/>
<line x1="13.2" y1="307.5" x2="13.2" y2="312.5"/><line x1="29.3" y1="307.5" x2="29.3" y2="312.5"/><line x1="45.2" y1="307.5" x2="45.2" y2="312.5"/>
</g>
<g stroke="#666" stroke-width="0.5">
<line x1="7" y1="307.5" x2="7" y2="310.5"/><line x1="8.6" y1="307.5" x2="8.6" y2="310.5"/><line x1="10.1" y1="307.5" x2="10.1" y2="310.5"/><line x1="11.7" y1="307.5" x2="11.7" y2="310.5"/>
<line x1="14.8" y1="307.5" x2="14.8" y2="310.5"/><line x1="16.4" y1="307.5" x2="16.4" y2="310.5"/><line x1="17.9" y1="307.5" x2="17.9" y2="310.5"/><line x1="19.5" y1="307.5" x2="19.5" y2="310.5"/>
<line x1="22.6" y1="307.5" x2="22.6" y2="310.5"/><line x1="24.2" y1="307.5" x2="24.2" y2="310.5"/><line x1="25.8" y1="307.5" x2="25.8" y2="310.5"/><line x1="27.5" y1="307.5" x2="27.5" y2="310.5"/>
<line x1="30.9" y1="307.5" x2="30.9" y2="310.5"/><line x1="32.5" y1="307.5" x2="32.5" y2="310.5"/><line x1="34.1" y1="307.5" x2="34.1" y2="310.5"/><line x1="35.7" y1="307.5" x2="35.7" y2="310.5"/>
<line x1="38.9" y1="307.5" x2="38.9" y2="310.5"/><line x1="40.5" y1="307.5" x2="40.5" y2="310.5"/><line x1="42.1" y1="307.5" x2="42.1" y2="310.5"/><line x1="43.7" y1="307.5" x2="43.7" y2="310.5"/>
</g>
<text x="4.3" y="321" font-size="4.7" font-weight="bold" fill="#111" style="stroke:none">0 CM</text>
<text x="20.9" y="321" font-size="4.7" font-weight="bold" fill="#111" style="stroke:none" text-anchor="middle">1</text>
<text x="37.5" y="321" font-size="4.7" font-weight="bold" fill="#111" style="stroke:none" text-anchor="middle">2</text>
<path d="M18.6,254 C18.4,251.5 20,250.5 21.6,251.3 Q26,253.9 31.2,254.8 Q34.5,255 36.9,254.2 Q36.4,256.4 34.4,257.6 Q31.2,259.7 27.8,260.1 Q23.4,260.3 20.6,258.7 Q18.8,257 18.6,254 Z" fill="#48121f" stroke="#5e2030" stroke-width="0.6" filter="url(#b2)"/>
<path d="M13.7,266 C13.7,263.3 15.4,262.5 17.9,263.1 Q24,265.1 33.7,268.9 Q36.8,269.8 39.6,270 Q38.7,272 36.8,272.7 Q31,273.8 22.7,272.9 Q17,272.3 14.5,271.1 Q13.5,269 13.7,266 Z" fill="#44101d" stroke="#5e2030" stroke-width="0.6" filter="url(#b2)"/>
</g>
<g clip-path="url(#h1)">
<rect x="84" y="235" width="77" height="57" fill="#7c5eaa"/>
<g filter="url(#b1)">
<ellipse cx="104" cy="267" rx="21" ry="13" fill="#a05896"/>
<ellipse cx="121" cy="254" rx="14" ry="9" fill="#9c68a6"/>
<ellipse cx="117" cy="282" rx="7" ry="6" fill="#9a5e9a"/>
<ellipse cx="132" cy="265" rx="9" ry="9" fill="#6658aa"/>
<ellipse cx="96" cy="286" rx="13" ry="7" fill="#6c5cae"/>
<ellipse cx="146" cy="283" rx="16" ry="9" fill="#685aac"/>
<ellipse cx="157" cy="263" rx="6" ry="10" fill="#6c5eae"/>
<ellipse cx="153" cy="243" rx="10" ry="8" fill="#ac9cd4"/>
</g>
<g fill="none" stroke="#d8b4d8" stroke-width="0.9" opacity="0.55" filter="url(#b2)">
<path d="M94,262 Q108,252 124,246"/>
<path d="M112,268 Q116,262 118,256"/>
<path d="M123,272 Q126,278 128,283"/>
<path d="M128,284 Q138,276 149,271"/>
<path d="M140,257 Q145,250 150,250"/>
<path d="M100,276 Q106,274 110,270"/>
</g>
<rect x="84" y="235" width="77" height="57" fill="#000" filter="url(#tx)" opacity="0.28"/>
<rect x="84" y="235" width="77" height="57" fill="#000" filter="url(#tk)" opacity="0.3"/>
<rect x="136" y="233" width="26" height="24" fill="#000" filter="url(#tx)" opacity="0.55" mask="url(#m1)"/>
<path d="M84,268.6 Q88,264.6 92,261.4 Q96,258.6 100,256.4 Q108,252.2 117,248.4 Q124,245.2 129,242.8 Q135,240.2 140,238.6" fill="none" stroke="#7a4c94" stroke-width="2.2" opacity="0.7" filter="url(#b2)"/>
<path d="M82,268.5 L84,267.6 Q88,263.6 92,260.4 Q96,257.6 100,255.4 Q108,251.2 117,247.4 Q124,244.2 129,241.8 Q135,239.2 140,237.6 Q143,236.4 146,233 L82,233 Z" fill="#fcfcfe" filter="url(#b2)"/>
</g>
<rect x="84.4" y="235.3" width="76" height="56.3" fill="none" stroke="#a4a4a4" stroke-width="0.7"/>
<line x1="86.2" y1="237.8" x2="91.8" y2="237.8" stroke="#777" stroke-width="1.1"/>
<g clip-path="url(#h2)">
<rect x="84" y="296" width="77" height="57" fill="#787ac2"/>
<g filter="url(#b1)">
<ellipse cx="112" cy="336" rx="12" ry="13" fill="#908ac0"/>
<ellipse cx="150" cy="325" rx="8" ry="3" fill="#8484c4"/>
<ellipse cx="146" cy="340" rx="13" ry="11" fill="#6c70bc"/>
<ellipse cx="110" cy="310" rx="16" ry="9" fill="#7678be"/>
</g>
<rect x="84" y="296" width="77" height="57" fill="#000" filter="url(#tx)" opacity="0.28"/>
<rect x="84" y="296" width="77" height="57" fill="#000" filter="url(#tk)" opacity="0.3"/>
<path d="M82,318 L84.4,317 Q85.5,309 89,302 Q91,299 94,296.4 L82,294 Z" fill="#fcfcfe" filter="url(#b2)"/>
</g>
<rect x="84.4" y="296.4" width="75.8" height="56" fill="none" stroke="#a4a4a4" stroke-width="0.7"/>
<line x1="86.2" y1="298.4" x2="91.8" y2="298.4" stroke="#777" stroke-width="1.1"/>

<text x="48.4" y="260.6" font-size="9" text-anchor="start" font-weight="normal" fill="#161616" >Ctrl</text>
<text x="48.4" y="275.2" font-size="9" text-anchor="start" font-weight="normal" fill="#161616" >Xiap-/-</text>
<text x="165.2" y="269.8" font-size="9" text-anchor="start" font-weight="normal" fill="#161616" >Ctrl</text>
<text x="165.6" y="327.5" font-size="9" text-anchor="start" font-weight="normal" fill="#161616" >Xiap-/-</text>
<text x="202.0" y="242.0" font-size="11.4" text-anchor="start" font-weight="bold" fill="#161616" >F</text>
<line x1="224.0" y1="254.4" x2="224.0" y2="316.3" stroke="#555" stroke-width="0.9" />
<line x1="223.55" y1="316.3" x2="306.3" y2="316.3" stroke="#444" stroke-width="1.0" />
<line x1="224.0" y1="254.5" x2="225.5" y2="254.5" stroke="#555" stroke-width="0.8" />
<line x1="224.0" y1="266.3" x2="225.5" y2="266.3" stroke="#555" stroke-width="0.8" />
<line x1="224.0" y1="280.0" x2="225.5" y2="280.0" stroke="#555" stroke-width="0.8" />
<line x1="224.0" y1="291.5" x2="225.5" y2="291.5" stroke="#555" stroke-width="0.8" />
<line x1="224.0" y1="305.0" x2="225.5" y2="305.0" stroke="#555" stroke-width="0.8" />
<text x="220.0" y="255.59" font-size="7.8" text-anchor="end" font-weight="normal" fill="#161616" >25</text>
<text x="220.0" y="269.09" font-size="7.8" text-anchor="end" font-weight="normal" fill="#161616" >20</text>
<text x="220.0" y="283.09" font-size="7.8" text-anchor="end" font-weight="normal" fill="#161616" >15</text>
<text x="220.0" y="294.69" font-size="7.8" text-anchor="end" font-weight="normal" fill="#161616" >10</text>
<text x="220.0" y="307.49" font-size="7.8" text-anchor="end" font-weight="normal" fill="#161616" >5</text>
<text x="220.0" y="315.89" font-size="7.8" text-anchor="end" font-weight="normal" fill="#161616" >0</text>
<text x="263.7" y="243.1" font-size="9.3" text-anchor="middle" font-weight="normal" fill="#161616" >Macrophages</text>
<text transform="translate(207.1,281.5) rotate(-90)" x="0" y="0" font-size="7.6" text-anchor="middle" font-weight="normal" fill="#161616">Cell No. (X10<tspan font-size="5" dy="-2.6">6</tspan><tspan dy="2.6">)</tspan></text>
<line x1="244.1" y1="316.3" x2="244.1" y2="314.90000000000003" stroke="#444" stroke-width="0.7" />
<line x1="244.1" y1="299.4" x2="244.1" y2="313.5" stroke="#1a1a1a" stroke-width="1.0" />
<line x1="240.35" y1="299.4" x2="247.85" y2="299.4" stroke="#1a1a1a" stroke-width="1.1" />
<line x1="240.35" y1="313.5" x2="247.85" y2="313.5" stroke="#1a1a1a" stroke-width="1.1" />
<line x1="230.6" y1="306.3" x2="258.1" y2="306.3" stroke="#3a3a3a" stroke-width="1.0" />
<circle cx="244.1" cy="294.8" r="1.2" fill="#111"/>
<circle cx="240.6" cy="307.5" r="1.2" fill="#111"/>
<circle cx="247.5" cy="307.5" r="1.2" fill="#111"/>
<circle cx="244.1" cy="308.8" r="1.2" fill="#111"/>
<circle cx="244.1" cy="315.0" r="1.2" fill="#111"/>
<line x1="285.0" y1="316.3" x2="285.0" y2="314.90000000000003" stroke="#444" stroke-width="0.7" />
<line x1="285.0" y1="275.8" x2="285.0" y2="306.3" stroke="#1a1a1a" stroke-width="1.0" />
<line x1="281.25" y1="275.8" x2="288.75" y2="275.8" stroke="#1a1a1a" stroke-width="1.1" />
<line x1="281.25" y1="306.3" x2="288.75" y2="306.3" stroke="#1a1a1a" stroke-width="1.1" />
<line x1="271.3" y1="291.0" x2="299.4" y2="291.0" stroke="#3a3a3a" stroke-width="1.0" />
<circle cx="285.3" cy="268.3" r="1.2" fill="#111"/>
<circle cx="286.9" cy="287.0" r="1.2" fill="#111"/>
<circle cx="284.0" cy="289.8" r="1.2" fill="#111"/>
<circle cx="285.0" cy="302.5" r="1.2" fill="#111"/>
<circle cx="285.0" cy="307.5" r="1.2" fill="#111"/>
<text x="244.7" y="329.7" font-size="8.1" text-anchor="middle" font-weight="bold" fill="#161616" >Ctrl</text>
<text x="289.7" y="329.7" font-size="8.1" text-anchor="middle" font-weight="normal" fill="#161616" >Xiap-/-</text>
<line x1="244.4" y1="256.5" x2="284.8" y2="256.5" stroke="#2a2a2a" stroke-width="1.0" />
<text x="265.6" y="255.18" font-size="6.2" text-anchor="middle" font-weight="bold" fill="#111" style="stroke:#111;stroke-width:0.45px;stroke-linejoin:round" letter-spacing="0">*</text>
<line x1="341.1" y1="254.5" x2="341.1" y2="315.6" stroke="#555" stroke-width="0.9" />
<line x1="340.65000000000003" y1="315.6" x2="420.6" y2="315.6" stroke="#444" stroke-width="1.0" />
<line x1="341.1" y1="254.5" x2="342.6" y2="254.5" stroke="#555" stroke-width="0.8" />
<line x1="341.1" y1="266.4" x2="342.6" y2="266.4" stroke="#555" stroke-width="0.8" />
<line x1="341.1" y1="278.3" x2="342.6" y2="278.3" stroke="#555" stroke-width="0.8" />
<line x1="341.1" y1="291.0" x2="342.6" y2="291.0" stroke="#555" stroke-width="0.8" />
<line x1="341.1" y1="302.5" x2="342.6" y2="302.5" stroke="#555" stroke-width="0.8" />
<text x="336.6" y="256.39" font-size="7.8" text-anchor="end" font-weight="normal" fill="#161616" >25</text>
<text x="336.6" y="270.29" font-size="7.8" text-anchor="end" font-weight="normal" fill="#161616" >20</text>
<text x="336.6" y="283.79" font-size="7.8" text-anchor="end" font-weight="normal" fill="#161616" >15</text>
<text x="336.6" y="295.79" font-size="7.8" text-anchor="end" font-weight="normal" fill="#161616" >10</text>
<text x="336.6" y="308.39" font-size="7.8" text-anchor="end" font-weight="normal" fill="#161616" >5</text>
<text x="336.6" y="317.19" font-size="7.8" text-anchor="end" font-weight="normal" fill="#161616" >0</text>
<text x="383.1" y="243.1" font-size="9.3" text-anchor="middle" font-weight="normal" fill="#161616" >Neutrophils</text>
<text transform="translate(323.6,282.5) rotate(-90)" x="0" y="0" font-size="7.6" text-anchor="middle" font-weight="normal" fill="#161616">Cell No. (X10<tspan font-size="5" dy="-2.6">6</tspan><tspan dy="2.6">)</tspan></text>
<line x1="361.1" y1="315.6" x2="361.1" y2="314.20000000000005" stroke="#444" stroke-width="0.7" />
<line x1="361.1" y1="308.8" x2="361.1" y2="311.9" stroke="#1a1a1a" stroke-width="1.0" />
<line x1="358.0" y1="308.8" x2="364.20000000000005" y2="308.8" stroke="#1a1a1a" stroke-width="1.1" />
<line x1="358.0" y1="311.9" x2="364.20000000000005" y2="311.9" stroke="#1a1a1a" stroke-width="1.1" />
<line x1="347.4" y1="311.9" x2="374.3" y2="311.9" stroke="#3a3a3a" stroke-width="1.0" />
<circle cx="356.1" cy="312.3" r="1.2" fill="#111"/>
<circle cx="361.1" cy="308.5" r="1.2" fill="#111"/>
<circle cx="366.1" cy="311.5" r="1.2" fill="#111"/>
<circle cx="359.3" cy="314.4" r="1.2" fill="#111"/>
<circle cx="361.8" cy="314.0" r="1.2" fill="#111"/>
<line x1="400.3" y1="315.6" x2="400.3" y2="314.20000000000005" stroke="#444" stroke-width="0.7" />
<line x1="400.3" y1="271.4" x2="400.3" y2="311.9" stroke="#1a1a1a" stroke-width="1.0" />
<line x1="396.8" y1="271.4" x2="403.8" y2="271.4" stroke="#1a1a1a" stroke-width="1.1" />
<line x1="396.8" y1="311.9" x2="403.8" y2="311.9" stroke="#1a1a1a" stroke-width="1.1" />
<line x1="387.5" y1="292.0" x2="414.0" y2="292.0" stroke="#3a3a3a" stroke-width="1.0" />
<circle cx="400.6" cy="258.0" r="1.2" fill="#111"/>
<circle cx="400.3" cy="288.9" r="1.2" fill="#111"/>
<circle cx="400.3" cy="299.8" r="1.2" fill="#111"/>
<circle cx="401.9" cy="304.4" r="1.2" fill="#111"/>
<circle cx="399.0" cy="307.3" r="1.2" fill="#111"/>
<text x="360.5" y="328.8" font-size="8.1" text-anchor="middle" font-weight="normal" fill="#161616" >Ctrl</text>
<text x="410.6" y="328.8" font-size="8.1" text-anchor="middle" font-weight="normal" fill="#161616" >Xiap-/-</text>
<line x1="366.5" y1="256.5" x2="400.0" y2="256.5" stroke="#2a2a2a" stroke-width="1.0" />
<text x="385.0" y="253.98" font-size="6.2" text-anchor="middle" font-weight="bold" fill="#111" style="stroke:#111;stroke-width:0.45px;stroke-linejoin:round" letter-spacing="0">*</text>
</svg>
</body></html>
